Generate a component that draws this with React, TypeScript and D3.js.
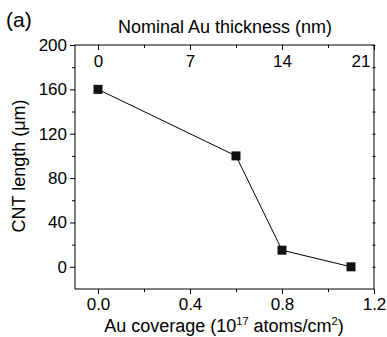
import React, { useEffect, useRef } from "react";
import * as d3 from "d3";

const coverage = [0.0, 0.6, 0.8, 1.1];
const cntLength = [160, 100, 15, 0];
const bottomTicks = [0.0, 0.4, 0.8, 1.2];
const bottomMinor = [0.2, 0.6, 1.0];
const leftTicks = [0, 40, 80, 120, 160, 200];
const leftMinor = [20, 60, 100, 140, 180];
const topTicks = [0, 7, 14, 21];
const topMinor = [3.5, 10.5, 17.5];

const W = 387, H = 337;
const m = { top: 45, right: 13, bottom: 48, left: 75 };
const FONT = "Liberation Sans, Arial, sans-serif";

export default function App() {
  const ref = useRef<SVGSVGElement>(null);

  useEffect(() => {
    const svg = d3.select(ref.current);
    svg.selectAll("*").remove();
    const w = W - m.left - m.right, h = H - m.top - m.bottom;

    const x = d3.scaleLinear().domain([-0.1, 1.2]).range([0, w]);
    const y = d3.scaleLinear().domain([-20, 200]).range([h, 0]);
    // nominal thickness: 7 nm per 0.4 coverage
    const xTop = d3.scaleLinear().domain([-0.1 * 7 / 0.4, 21]).range([0, w]);

    const g = svg.append("g").attr("transform", `translate(${m.left},${m.top})`);

    const ax = (sel: any) => {
      sel.selectAll(".domain").remove();
      sel.selectAll("line").attr("stroke", "#000");
      sel.selectAll("text").attr("fill", "#000").style("font-family", FONT).style("font-size", "17px");
    };

    // bottom, outward ticks
    g.append("g").attr("transform", `translate(0,${h})`)
      .call(d3.axisBottom(x).tickValues(bottomTicks).tickFormat(d3.format(".1f")).tickSize(5).tickPadding(4))
      .call(ax);
    g.append("g").attr("transform", `translate(0,${h})`)
      .call(d3.axisBottom(x).tickValues(bottomMinor).tickFormat(() => "").tickSize(3))
      .call(ax);
    // left, outward ticks
    g.append("g")
      .call(d3.axisLeft(y).tickValues(leftTicks).tickSize(5).tickPadding(3))
      .call(ax);
    g.append("g")
      .call(d3.axisLeft(y).tickValues(leftMinor).tickFormat(() => "").tickSize(3))
      .call(ax);
    // right, tiny ticks
    g.append("g").attr("transform", `translate(${w + 1.5},0)`)
      .call(d3.axisLeft(y).tickValues([...leftTicks, ...leftMinor]).tickFormat(() => "").tickSize(3))
      .call(ax);
    // top, inward ticks with labels inside
    const top = g.append("g")
      .call(d3.axisBottom(xTop).tickValues(topTicks).tickSize(5).tickPadding(5))
      .call(ax);
    top.selectAll("text").filter((d: any) => d === 21)
      .attr("text-anchor", "end").attr("x", -4);
    g.append("g")
      .call(d3.axisBottom(xTop).tickValues(topMinor).tickFormat(() => "").tickSize(3))
      .call(ax);

    g.append("rect").attr("width", w).attr("height", h)
      .attr("fill", "none").attr("stroke", "#000").attr("stroke-width", 1);

    const pts = coverage.map((c, i) => [c, cntLength[i]] as [number, number]);
    g.append("path")
      .attr("d", d3.line().x(d => x(d[0])).y(d => y(d[1]))(pts))
      .attr("fill", "none").attr("stroke", "#000").attr("stroke-width", 1);
    g.selectAll(".pt").data(pts).enter().append("rect")
      .attr("x", d => x(d[0]) - 4.5).attr("y", d => y(d[1]) - 4.5)
      .attr("width", 9).attr("height", 9).attr("fill", "#111");

    // labels
    svg.append("text").attr("x", 6).attr("y", 27).text("(a)")
      .style("font-family", FONT).style("font-size", "21px");
    svg.append("text").attr("x", 225).attr("y", 33).attr("text-anchor", "middle")
      .text("Nominal Au thickness (nm)").style("font-family", FONT).style("font-size", "18px");
    svg.append("text").attr("transform", `translate(25,166) rotate(-90)`)
      .attr("text-anchor", "middle").text("CNT length (\u03bcm)")
      .style("font-family", FONT).style("font-size", "18px");
    const xl = svg.append("text").attr("x", 224).attr("y", 332).attr("text-anchor", "middle")
      .style("font-family", FONT).style("font-size", "18px");
    xl.append("tspan").text("Au coverage (10");
    xl.append("tspan").attr("dy", -7).style("font-size", "11px").text("17");
    xl.append("tspan").attr("dy", 7).text(" atoms/cm");
    xl.append("tspan").attr("dy", -7).style("font-size", "11px").text("2");
    xl.append("tspan").attr("dy", 7).text(")");
  }, []);

  return <svg ref={ref} width={W} height={H} style={{ position: "absolute", left: 0, top: 0 }} />;
}
